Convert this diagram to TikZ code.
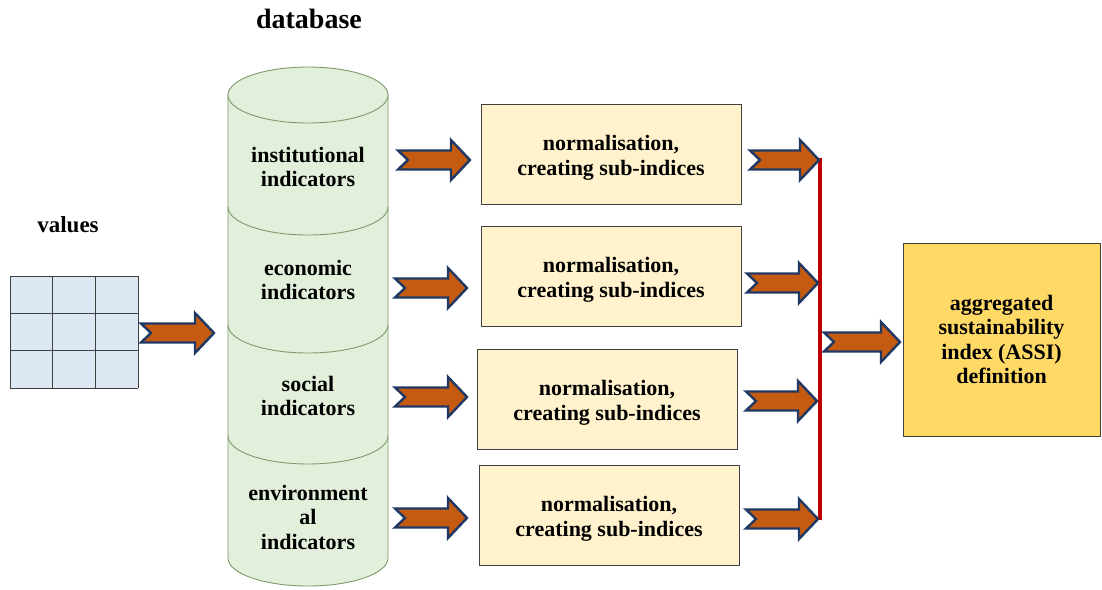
\documentclass[tikz,border=0pt]{standalone}
\usepackage{fontspec}
\setmainfont{Liberation Serif}
\definecolor{cylfill}{HTML}{E2EFDA}
\definecolor{cylline}{HTML}{7E9A6C}
\definecolor{boxfill}{HTML}{FFF2CC}
\definecolor{boxline}{HTML}{404040}
\definecolor{finfill}{HTML}{FFD966}
\definecolor{gridfill}{HTML}{DDE8F5}
\definecolor{arrfill}{HTML}{C55A11}
\definecolor{arrline}{HTML}{203864}
\definecolor{redbar}{HTML}{C00000}
\tikzset{
  lbl/.style={font=\bfseries\fontsize{22}{24.5}\selectfont, align=center, inner sep=0pt},
  normbox/.style={draw=boxline, fill=boxfill, line width=0.9pt, minimum width=260pt, minimum height=100pt},
  finbox/.style={draw=boxline, fill=finfill, line width=0.9pt, minimum width=197pt, minimum height=193pt, lbl},
  cylstroke/.style={draw=cylline, line width=0.9pt},
  pics/barrow/.style={code={
    \draw[fill=arrfill, draw=arrline, line width=2.4pt, line join=miter]
      (0,-9.5) -- ({#1-19},-9.5) -- ({#1-19},-20) -- (#1,0) -- ({#1-19},20) -- ({#1-19},9.5) -- (0,9.5) -- (10,0) -- cycle;}}
}
\begin{document}
\begin{tikzpicture}[x=1pt,y=1pt]
\useasboundingbox (0,0) rectangle (1102,-589);
% titles
\node[font=\bfseries\fontsize{28}{30}\selectfont] (dbtitle) at (309,-19) {database};
\node[font=\bfseries\fontsize{23}{26}\selectfont] (valtitle) at (68,-225) {values};
% grid of values
\fill[gridfill] (10,-276) rectangle (138,-388);
\foreach \i in {0,1,2,3} {
  \draw[boxline, line width=1pt] ({10+\i*128/3},-276) -- ({10+\i*128/3},-388);
  \draw[boxline, line width=1pt] (10,{-276-\i*112/3}) -- (138,{-276-\i*112/3});
}
\coordinate (grid) at (138,-333);
% cylinder
\fill[cylfill] (228,-95) -- (228,-558) arc[start angle=180,end angle=360,x radius=80,y radius=28] -- (388,-95) -- cycle;
\draw[cylstroke] (228,-95) -- (228,-558) arc[start angle=180,end angle=360,x radius=80,y radius=28] -- (388,-95);
\draw[cylstroke, fill=cylfill] (308,-95) ellipse[x radius=80,y radius=28];
\foreach \yy in {207,325,436} {
  \draw[cylstroke] (228,-\yy) arc[start angle=180,end angle=360,x radius=80,y radius=28];
}
\node[lbl] (inst) at (308,-167) {institutional\\indicators};
\node[lbl] (econ) at (308,-280) {economic\\indicators};
\node[lbl] (soc) at (308,-396) {social\\indicators};
\node[lbl] (env) at (308,-517) {environment\\al\\indicators};
% normalisation boxes
\node[normbox] (n1) at (611,-154) {};
\node[normbox] (n2) at (611,-276) {};
\node[normbox] (n3) at (607,-399) {};
\node[normbox] (n4) at (609,-515) {};
\foreach \b in {n1,n2,n3,n4} {
  \node[lbl] (\b t) at ([yshift=-4pt]\b.center) {normalisation,\\creating sub-indices};
}
% final box
\node[finbox] (fin) at (1001.5,-339.5) {aggregated\\sustainability\\index (ASSI)\\definition};
% red collector bar
\coordinate (bartop) at (820,-158);
\coordinate (barbot) at (820,-520);
\draw[redbar, line width=4pt] (bartop) -- (barbot);
% block arrows
\pic at (141,-333) {barrow=73};
\pic at (398,-160) {barrow=72};
\pic at (395,-288) {barrow=72};
\pic at (395,-397) {barrow=72};
\pic at (395,-518) {barrow=72};
\pic at (750,-160) {barrow=69};
\pic at (747,-283) {barrow=71};
\pic at (746,-401) {barrow=71};
\pic at (746,-519) {barrow=72};
\pic at (824,-342) {barrow=76};
\end{tikzpicture}
\end{document}
